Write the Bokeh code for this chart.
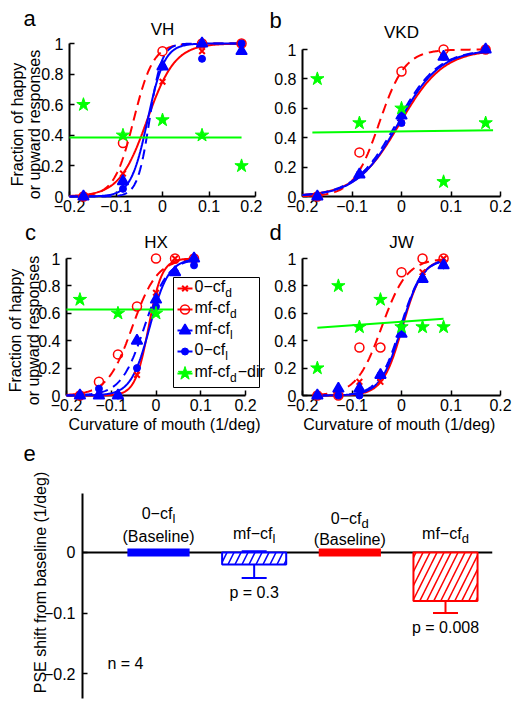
import numpy as np
from math import pi
from bokeh.plotting import figure
from bokeh.models import FixedTicker, Span
from bokeh.layouts import column, row
from bokeh.embed import file_html
from bokeh.resources import INLINE
from bokeh.core.properties import value

# ---------------- data ----------------
x_ticks = [-0.2, -0.1, 0, 0.1, 0.2]
x_tick_labels = ["−0.2", "−0.1", "0", "0.1", "0.2"]
y_ticks = [0, 0.2, 0.4, 0.6, 0.8, 1]
y_tick_labels = ["0", "0.2", "0.4", "0.6", "0.8", "1"]

subjects = ["VH", "VKD", "HX", "JW"]
panel_letters = ["a", "b", "c", "d", "e"]
conditions = ["0-cfd", "mf-cfd", "mf-cfl", "0-cfl"]

levels_ab = [-0.17, -0.085, 0.0, 0.085, 0.17]
levels_cd = [-0.17, -0.1275, -0.085, -0.0425, 0.0, 0.0425, 0.085]

# VH
vh_0cfd = [0.0, 0.15, 0.75, 0.95, 1.0]
vh_mfcfd = [0.0, 0.35, 0.95, 1.0, 1.0]
vh_mfcfl = [0.0, 0.10, 0.85, 1.0, 0.95]
vh_0cfl = [0.0, 0.05, 0.85, 0.90, 1.0]
vh_dir_levels = [-0.17, -0.085, 0.0, 0.085, 0.17]
vh_dir = [0.6, 0.4, 0.5, 0.4, 0.2]
vh_pse = [-0.033, -0.062, -0.028, -0.032]
vh_slope = [0.030, 0.021, 0.013, 0.018]
vh_fit_span = [-0.2, 0.17]
vh_dir_fit_x = [-0.2, 0.17]
vh_dir_fit_y = [0.385, 0.385]

# VKD
vkd_0cfd = [0.0, 0.15, 0.5, 0.95, 1.0]
vkd_mfcfd = [0.0, 0.30, 0.85, 1.0, 1.0]
vkd_mfcfl = [0.0, 0.15, 0.55, 0.95, 1.0]
vkd_0cfl = [0.0, 0.15, 0.50, 0.95, 1.0]
vkd_dir_levels = [-0.17, -0.085, 0.0, 0.085, 0.17]
vkd_dir = [0.8, 0.5, 0.6, 0.1, 0.5]
vkd_pse = [-0.003, -0.045, -0.010, -0.006]
vkd_slope = [0.044, 0.026, 0.042, 0.042]
vkd_fit_span = [-0.2, 0.17]
vkd_dir_fit_x = [-0.18, 0.185]
vkd_dir_fit_y = [0.435, 0.45]

# HX
hx_0cfd = [0.0, 0.0, 0.0, 0.15, 0.75, 1.0, 1.0]
hx_mfcfd = [0.0, 0.10, 0.30, 0.65, 1.0, 1.0, 1.0]
hx_mfcfl = [0.0, 0.0, 0.0, 0.40, 0.70, 0.90, 1.0]
hx_0cfl = [0.0, 0.05, 0.0, 0.20, 0.65, 0.90, 0.95]
hx_dir_levels = [-0.17, -0.085, 0.0]
hx_dir = [0.7, 0.6, 0.6]
hx_pse = [-0.0165, -0.053, -0.026, -0.014]
hx_slope = [0.015, 0.028, 0.026, 0.021]
hx_fit_span = [-0.2, 0.085]
hx_dir_fit_x = [-0.2, 0.085]
hx_dir_fit_y = [0.627, 0.627]

# JW
jw_0cfd = [0.0, 0.0, 0.10, 0.10, 0.50, 0.90, 1.0]
jw_mfcfd = [0.0, 0.0, 0.35, 0.35, 0.90, 1.0, 1.0]
jw_mfcfl = [0.0, 0.05, 0.05, 0.15, 0.45, 0.85, 0.95]
jw_0cfl = [0.0, 0.0, 0.0, 0.15, 0.50, 0.85, 0.95]
jw_dir_levels = [-0.17, -0.1275, -0.085, -0.0425, 0.0, 0.0425, 0.085]
jw_dir = [0.2, 0.8, 0.5, 0.7, 0.5, 0.5, 0.5]
jw_pse = [0.002, -0.040, -0.002, 0.0]
jw_slope = [0.020, 0.0255, 0.022, 0.021]
jw_fit_span = [-0.17, 0.085]
jw_dir_fit_x = [-0.17, 0.085]
jw_dir_fit_y = [0.495, 0.56]

# legend labels (main text, subscript, tail)
leg_main = ["0−cf", "mf-cf", "mf-cf", "0−cf", "mf-cf"]
leg_sub = ["d", "d", "l", "l", "d"]
leg_tail = ["", "", "", "", "−dir"]

# panel e: PSE shift from baseline
e_pos = [1, 2, 3, 4]
e_main = ["0−cf", "mf−cf", "0−cf", "mf−cf"]
e_sub = ["l", "l", "d", "d"]
e_note = ["(Baseline)", "", "(Baseline)", ""]
e_shift = [0.0, -0.02, 0.0, -0.08]
e_err = [0.0, 0.022, 0.0, 0.02]
e_pval = ["", "p = 0.3", "", "p = 0.008"]
e_ticks = [-0.2, -0.1, 0]
e_tick_labels = ["−0.2", "−0.1", "0"]

# ---------------- style ----------------
FONT = "Liberation Sans"
RED, BLUE, GREEN = "#ff0000", "#0000ff", "#00ff00"
cond_color = [RED, RED, BLUE, BLUE]
cond_dash = ["solid", "10 6", "10 6", "solid"]
cond_marker = ["x", "circle", "triangle", "circle"]
cond_size = [8, 9, 11, 7]
cond_fill = [None, None, BLUE, BLUE]
cond_lw = [2, 1.5, 1.5, 1]
LETTER_SIZE = 22

W = {'0': 556, '1': 556, '2': 556, '3': 556, '4': 556, '5': 556, '6': 556, '7': 556,
     '8': 556, '9': 556, '.': 278, ' ': 278, '−': 584, '-': 333, 'c': 500, 'f': 278,
     'm': 833, 'd': 556, 'l': 222, 'i': 222, 'r': 333, '(': 333, ')': 333, 'B': 667,
     'a': 556, 's': 500, 'e': 556, 'n': 556, 'p': 556, '=': 584}


def tw(s, size):
    return sum(W.get(ch, 556) for ch in s) * size / 1000.0


def mapper(g):
    l, r, t, b = g["frame"]
    x0, x1 = g["xr"]
    y0, y1 = g["yr"]

    def X(px):
        return x0 + (px - l) * (x1 - x0) / (r - l)

    def Y(py):
        return y1 - (py - t) * (y1 - y0) / (b - t)

    return X, Y, (x1 - x0) / (r - l)


def new_fig(g, **kw):
    ox, oy, w, h = g["fig"]
    l, r, t, b = g["frame"]
    p = figure(width=w, height=h, x_range=g["xr"], y_range=g["yr"], title=None,
               output_backend="svg", toolbar_location=None,
               min_border_left=l - ox, min_border_right=ox + w - r,
               min_border_top=t - oy, min_border_bottom=oy + h - b, **kw)
    p.outline_line_color = None
    p.grid.visible = False
    p.border_fill_color = "white"
    p.background_fill_color = "white"
    return p


def style_axis(ax, ticks, labels, standoff, bounds=None):
    ax.ticker = FixedTicker(ticks=ticks)
    ax.major_label_overrides = {k: v for k, v in zip(ticks, labels)}
    ax.axis_line_color = "black"
    ax.axis_line_width = 2
    ax.major_tick_line_color = "black"
    ax.major_tick_line_width = 1.5
    ax.major_tick_in = 5
    ax.major_tick_out = 0
    ax.minor_tick_line_color = None
    ax.major_label_text_font = FONT
    ax.major_label_text_font_size = "16px"
    ax.major_label_text_color = "black"
    ax.major_label_standoff = standoff
    if bounds is not None:
        ax.bounds = bounds


def txt(p, xs, ys, texts, size, align="center", angle=0.0):
    p.text(x=xs, y=ys, text=texts, text_font=value(FONT), text_font_size=f"{size}px",
           text_align=align, text_baseline="middle", angle=angle, text_color="black",
           level="overlay")


def psych(g, letter, letter_px, title, title_py, levels, series, dir_levels, dir_vals,
          pse, slope, fit_span, dfx, dfy, ylabel_px=None, xlabel=None):
    p = new_fig(g)
    X, Y, kx = mapper(g)
    style_axis(p.xaxis[0], x_ticks, x_tick_labels, 3, bounds=(-0.2, 0.2))
    style_axis(p.yaxis[0], y_ticks, y_tick_labels, 6, bounds=(0, 1))
    if xlabel:
        ax = p.xaxis[0]
        ax.axis_label = xlabel
        ax.axis_label_text_font = FONT
        ax.axis_label_text_font_size = "16px"
        ax.axis_label_text_font_style = "normal"
        ax.axis_label_text_color = "black"
        ax.axis_label_standoff = 2
    xs = np.linspace(fit_span[0], fit_span[1], 181)
    for k in [0, 1, 2, 3]:
        ys = 1.0 / (1.0 + np.exp(-(xs - pse[k]) / slope[k]))
        p.line(xs, ys, line_color=cond_color[k], line_width=2, line_dash=cond_dash[k],
               level="overlay")
    p.line(dfx, dfy, line_color=GREEN, line_width=2, level="overlay")
    for k in [0, 1, 2, 3]:
        p.scatter(levels, series[k], marker=cond_marker[k], size=cond_size[k],
                  line_color=cond_color[k], fill_color=cond_fill[k], line_width=cond_lw[k],
                  level="overlay")
    p.scatter(dir_levels, dir_vals, marker="star", size=14, line_color=GREEN,
              fill_color=GREEN, level="overlay")
    txt(p, [X(letter_px[0])], [Y(letter_px[1])], [letter], LETTER_SIZE)
    txt(p, [0.0], [Y(title_py)], [title], 17)
    if ylabel_px:
        x1p, x2p, ycp = ylabel_px
        txt(p, [X(x1p), X(x2p)], [Y(ycp), Y(ycp)], ["Fraction of happy", "or upward responses"],
            16, angle=pi / 2)
    return p


ga = {"fig": (0, 0, 262, 218), "frame": (69, 255, 43, 196), "xr": (-0.2, 0.2), "yr": (0, 1)}
gb = {"fig": (262, 0, 256, 218), "frame": (302, 500, 43, 196), "xr": (-0.2, 0.2),
      "yr": (0, 1 + 6 / 147)}
gc = {"fig": (0, 218, 267, 219), "frame": (66, 262, 258, 395),
      "xr": (-0.2, 0.2 + 17 * 0.4 / 179), "yr": (0, 1)}
gd = {"fig": (267, 218, 251, 219), "frame": (302, 500, 258, 395), "xr": (-0.2, 0.2),
      "yr": (0, 1)}
ge = {"fig": (0, 437, 518, 271), "frame": (82, 492, 493, 698),
      "xr": (0.2056, 4.4913), "yr": (-0.2413, 0.0975)}

pa = psych(ga, panel_letters[0], (29, 18), subjects[0], 29, levels_ab,
           [vh_0cfd, vh_mfcfd, vh_mfcfl, vh_0cfl], vh_dir_levels, vh_dir, vh_pse, vh_slope,
           vh_fit_span, vh_dir_fit_x, vh_dir_fit_y, ylabel_px=(17, 34, 124))
pb = psych(gb, panel_letters[1], (275, 19.5), subjects[1], 31.5, levels_ab,
           [vkd_0cfd, vkd_mfcfd, vkd_mfcfl, vkd_0cfl], vkd_dir_levels, vkd_dir, vkd_pse,
           vkd_slope, vkd_fit_span, vkd_dir_fit_x, vkd_dir_fit_y)
pc = psych(gc, panel_letters[2], (30, 231.5), subjects[2], 241.5, levels_cd,
           [hx_0cfd, hx_mfcfd, hx_mfcfl, hx_0cfl], hx_dir_levels, hx_dir, hx_pse, hx_slope,
           hx_fit_span, hx_dir_fit_x, hx_dir_fit_y, ylabel_px=(15, 33, 330),
           xlabel="Curvature of mouth (1/deg)")
pd_ = psych(gd, panel_letters[3], (275, 231.5), subjects[3], 241.5, levels_cd,
            [jw_0cfd, jw_mfcfd, jw_mfcfl, jw_0cfl], jw_dir_levels, jw_dir, jw_pse, jw_slope,
            jw_fit_span, jw_dir_fit_x, jw_dir_fit_y,
            xlabel="Curvature of mouth  (1/deg)")

# ---- legend in panel c ----
X, Y, kx = mapper(gc)
pc.quad(left=[X(173)], right=[X(259)], top=[Y(277)], bottom=[Y(387)], fill_color="white",
        line_color="black", line_width=1, level="overlay")
leg_py = [288, 309, 330, 351, 373]
leg_colors = cond_color + [GREEN]
leg_markers = cond_marker + ["star"]
leg_sizes = cond_size + [14]
leg_fill = cond_fill + [GREEN]
leg_lw = cond_lw + [1]
tx, ty, tt, sx, sy, st = [], [], [], [], [], []
for i, py in enumerate(leg_py):
    yy = Y(py)
    pc.line([X(177), X(192)], [yy, yy], line_color=leg_colors[i], line_width=2, level="overlay")
    pc.scatter([X(184.5)], [yy], marker=leg_markers[i], size=leg_sizes[i],
               line_color=leg_colors[i], fill_color=leg_fill[i], line_width=leg_lw[i],
               level="overlay")
    x_main = 194
    tx.append(X(x_main)); ty.append(Y(py - 2.5)); tt.append(leg_main[i])
    x_sub = x_main + tw(leg_main[i], 16)
    sx.append(X(x_sub)); sy.append(Y(py + 4)); st.append(leg_sub[i])
    if leg_tail[i]:
        tx.append(X(x_sub + tw(leg_sub[i], 12) + 1)); ty.append(Y(py - 2.5)); tt.append(leg_tail[i])
txt(pc, tx, ty, tt, 16, align="left")
txt(pc, sx, sy, st, 12, align="left")

# ---- panel e ----
pe = new_fig(ge, x_axis_location=None)
X, Y, kx = mapper(ge)
style_axis(pe.yaxis[0], e_ticks, e_tick_labels, 7)
pe.add_layout(Span(location=0, dimension="width", line_color="black", line_width=2,
                   level="underlay"))
colors_e = [BLUE, BLUE, RED, RED]
hi = [i for i in range(4) if e_err[i] > 0]
base = [i for i in range(4) if e_err[i] == 0]
ex = [e_pos[i] for i in hi]
elo = [e_shift[i] - e_err[i] for i in hi]
ehi = [e_shift[i] + e_err[i] for i in hi]
ecol = [colors_e[i] for i in hi]
cap = 12.5 * kx
pe.segment(x0=ex, y0=elo, x1=ex, y1=ehi, line_color=ecol, line_width=2)
pe.segment(x0=[v - cap for v in ex], y0=elo, x1=[v + cap for v in ex], y1=elo,
           line_color=ecol, line_width=2)
pe.segment(x0=[v - cap for v in ex], y0=ehi, x1=[v + cap for v in ex], y1=ehi,
           line_color=ecol, line_width=2)
pe.vbar(x=ex, top=0, bottom=[e_shift[i] for i in hi], width=0.67, fill_color="white",
        line_color=ecol, line_width=2, hatch_pattern="/", hatch_color=ecol, hatch_scale=14,
        hatch_weight=1.5)
pe.rect(x=[e_pos[i] for i in base], y=[e_shift[i] for i in base], width=0.65, height=8,
        height_units="screen", fill_color=[colors_e[i] for i in base], line_color=None)

main_py = [513, 532.5, 517.5, 532.5]
note_py = [535.5, 0, 538.5, 0]
mx, my, mt, sx, sy, st, nx, ny, nt = [], [], [], [], [], [], [], [], []
for i in range(4):
    cx = e_pos[i]
    total = tw(e_main[i], 16) + tw(e_sub[i], 13)
    start = cx - total / 2 * kx
    mx.append(start); my.append(Y(main_py[i])); mt.append(e_main[i])
    sx.append(start + tw(e_main[i], 16) * kx); sy.append(Y(main_py[i] + 5)); st.append(e_sub[i])
    if e_note[i]:
        nx.append(cx); ny.append(Y(note_py[i])); nt.append(e_note[i])
    if e_pval[i]:
        ybot = e_shift[i] - e_err[i]
        nx.append(cx); ny.append(ybot + (Y(591.5) - Y(577.4))); nt.append(e_pval[i])
txt(pe, mx, my, mt, 16, align="left")
txt(pe, sx, sy, st, 13, align="left")
txt(pe, nx, ny, nt, 16)
txt(pe, [X(125)], [Y(662.5)], ["n = 4"], 16)
txt(pe, [X(40)], [Y(582)], ["PSE shift from baseline (1/deg)"], 16, angle=pi / 2)
txt(pe, [X(29)], [Y(453)], [panel_letters[4]], LETTER_SIZE)

layout = column(row(pa, pb), row(pc, pd_), pe)
open("out.html", "w").write(file_html(layout, INLINE))
